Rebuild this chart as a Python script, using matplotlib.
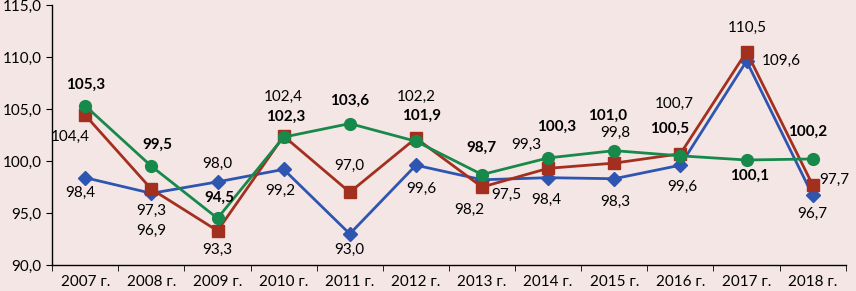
import numpy as np
import matplotlib.pyplot as plt

years = ['2007 г.', '2008 г.', '2009 г.', '2010 г.', '2011 г.', '2012 г.',
         '2013 г.', '2014 г.', '2015 г.', '2016 г.', '2017 г.', '2018 г.']
blue_vals = [98.4, 96.9, 98.0, 99.2, 93.0, 99.6, 98.2, 98.4, 98.3, 99.6, 109.6, 96.7]
red_vals = [104.4, 97.3, 93.3, 102.4, 97.0, 102.2, 97.5, 99.3, 99.8, 100.7, 110.5, 97.7]
green_vals = [105.3, 99.5, 94.5, 102.3, 103.6, 101.9, 98.7, 100.3, 101.0, 100.5, 100.1, 100.2]
yticks = [90, 95, 100, 105, 110, 115]

# label offsets in pixels (dx, dy)
blue_off = [(-5, -15), (0, -38), (0, 18), (-3, -22), (0, -16), (5, -24),
            (-13, -30), (-2, -22), (1, -23), (2, -22), (35, 0), (0, -19)]
red_off = [(-15, -22), (0, -22), (0, -19), (0, 39), (0, 26), (0, 41),
           (24, -8), (-22, 23), (1, 30), (-6, 50), (1, 24), (22, 5)]
green_off = [(0, 21), (6, 21), (2, 20), (2, 20), (0, 23), (6, 25),
             (-1, 27), (8, 31), (-7, 35), (-11, 27), (3, -16), (-5, 27)]

bg = '#f5e6e6'
plt.rcParams['font.family'] = ['Lato', 'DejaVu Sans']

fig = plt.figure(figsize=(8.56, 2.91), dpi=100, facecolor=bg)
ax = fig.add_axes([0.061, 0.089, 0.927, 0.894], facecolor=bg)

x = np.arange(len(years))
ax.plot(x, blue_vals, color='#2e55b0', lw=2, marker='D', ms=7, zorder=3)
ax.plot(x, red_vals, color='#a3301f', lw=2, marker='s', ms=8, zorder=4)
ax.plot(x, green_vals, color='#17894a', lw=2, marker='o', ms=8.5, zorder=5)

def fmt(v):
    return ('%.1f' % v).replace('.', ',')

for vals, offs, bold in [(blue_vals, blue_off, False), (red_vals, red_off, False),
                         (green_vals, green_off, True)]:
    for i, v in enumerate(vals):
        ax.annotate(fmt(v), (x[i], v), xytext=offs[i], textcoords='offset pixels',
                    ha='center', va='center', fontsize=11,
                    fontweight='bold' if bold else 'normal', color='black', zorder=6)

ax.set_xlim(-0.5, len(years) - 0.5)
ax.set_ylim(90, 115)
ax.set_yticks(yticks)
ax.set_yticklabels([fmt(v) for v in yticks], fontsize=11)
ax.set_xticks(x)
ax.set_xticklabels(years, fontsize=11)
ax.set_xticks(np.arange(-0.5, len(years)), minor=True)
ax.tick_params(axis='x', which='major', length=0, pad=7)
ax.tick_params(axis='x', which='minor', length=4, direction='out')
ax.tick_params(axis='y', length=4, direction='out')
for s in ['top', 'right']:
    ax.spines[s].set_visible(False)
for s in ['left', 'bottom']:
    ax.spines[s].set_color('black')
    ax.spines[s].set_linewidth(1)

fig.savefig('out.png', dpi=100, facecolor=bg)
